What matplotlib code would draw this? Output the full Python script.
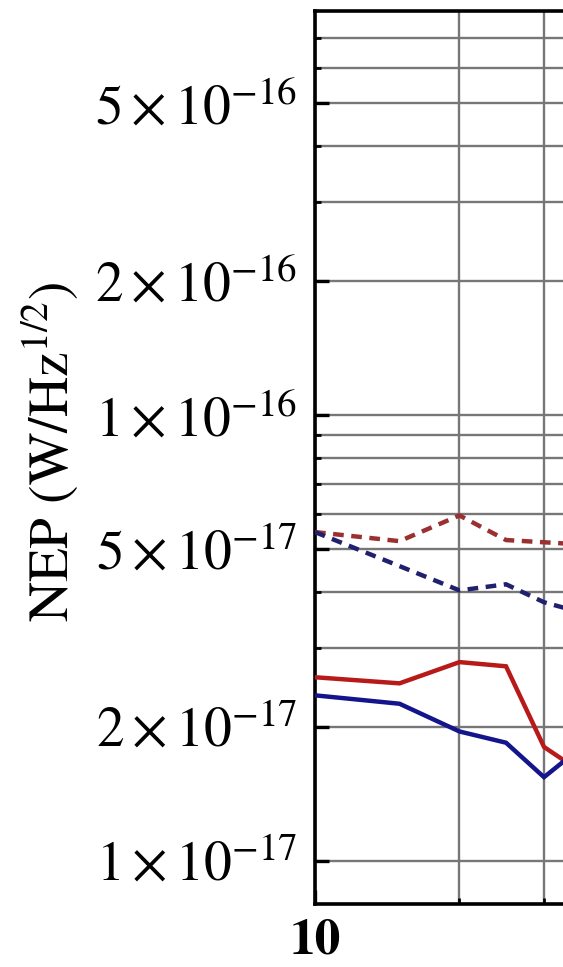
import matplotlib
matplotlib.use("Agg")
import matplotlib.pyplot as plt
from matplotlib.ticker import FixedLocator, NullFormatter

plt.rcParams["font.family"] = ["STIXGeneral", "DejaVu Serif"]
plt.rcParams["mathtext.fontset"] = "stix"

# Frequency points (log axis)
freq = [10, 15, 20, 25, 30, 35]

# NEP series (W/Hz^1/2)
nep_red_solid = [2.58e-17, 2.50e-17, 2.79e-17, 2.73e-17, 1.80e-17, 1.61e-17]
nep_blue_solid = [2.35e-17, 2.25e-17, 1.95e-17, 1.84e-17, 1.54e-17, 1.76e-17]
nep_red_dashed = [5.46e-17, 5.21e-17, 5.95e-17, 5.24e-17, 5.18e-17, 5.13e-17]
nep_blue_dashed = [5.46e-17, 4.58e-17, 4.04e-17, 4.17e-17, 3.80e-17, 3.63e-17]

# Axis ticks
y_major = [1e-17, 2e-17, 5e-17, 1e-16, 2e-16, 5e-16]
y_major_labels = [r"$1\times10^{-17}$", r"$2\times10^{-17}$", r"$5\times10^{-17}$",
                  r"$1\times10^{-16}$", r"$2\times10^{-16}$", r"$5\times10^{-16}$"]
y_minor = [3e-17, 4e-17, 6e-17, 7e-17, 8e-17, 9e-17, 3e-16, 4e-16, 6e-16, 7e-16]
x_major = [10]
x_major_labels = ["10"]
x_minor = [20, 30, 40, 50, 60, 70, 80, 90]

W, H = 563, 967
fig = plt.figure(figsize=(W / 100, H / 100), dpi=100)
ax = fig.add_axes([315 / W, 63 / H, 480 / W, 893 / H])
ax.set_xscale("log")
ax.set_yscale("log")
ax.set_xlim(10, 100)
ax.set_ylim(8.0e-18, 8.05e-16)

lw = 3.2
ax.plot(freq, nep_red_solid, color="#b81a1a", lw=lw, solid_joinstyle="miter", zorder=5)
ax.plot(freq, nep_blue_solid, color="#14148c", lw=lw, solid_joinstyle="miter", zorder=5)
ax.plot(freq, nep_red_dashed, color="#9a3030", lw=lw, dashes=(2.4, 1.7), zorder=5)
ax.plot(freq, nep_blue_dashed, color="#20206e", lw=lw, dashes=(2.4, 1.7), zorder=5)

ax.yaxis.set_major_locator(FixedLocator(y_major))
ax.set_yticklabels(y_major_labels)
ax.yaxis.set_minor_locator(FixedLocator(y_minor))
ax.yaxis.set_minor_formatter(NullFormatter())
ax.xaxis.set_major_locator(FixedLocator(x_major))
ax.set_xticklabels(x_major_labels)
ax.xaxis.set_minor_locator(FixedLocator(x_minor))
ax.xaxis.set_minor_formatter(NullFormatter())

ax.grid(True, which="both", color="#777777", lw=1.7, zorder=1)
ax.set_axisbelow(True)

for s in ax.spines.values():
    s.set_linewidth(2.6)
    s.set_color("black")

ax.tick_params(axis="both", which="major", direction="in", length=10, width=2.4,
               labelsize=40, colors="black")
ax.tick_params(axis="both", which="minor", direction="in", length=4, width=2.0)
ax.tick_params(axis="y", which="major", pad=13)
ax.tick_params(axis="x", which="major", pad=11, labelsize=37)
for t in ax.get_xticklabels():
    t.set_fontweight("bold")

fig.text(50 / W, 1 - 452 / H, r"NEP (W/Hz$^{1/2}$)", rotation=90,
         ha="center", va="center", fontsize=40)

fig.savefig("out.png", dpi=100)
